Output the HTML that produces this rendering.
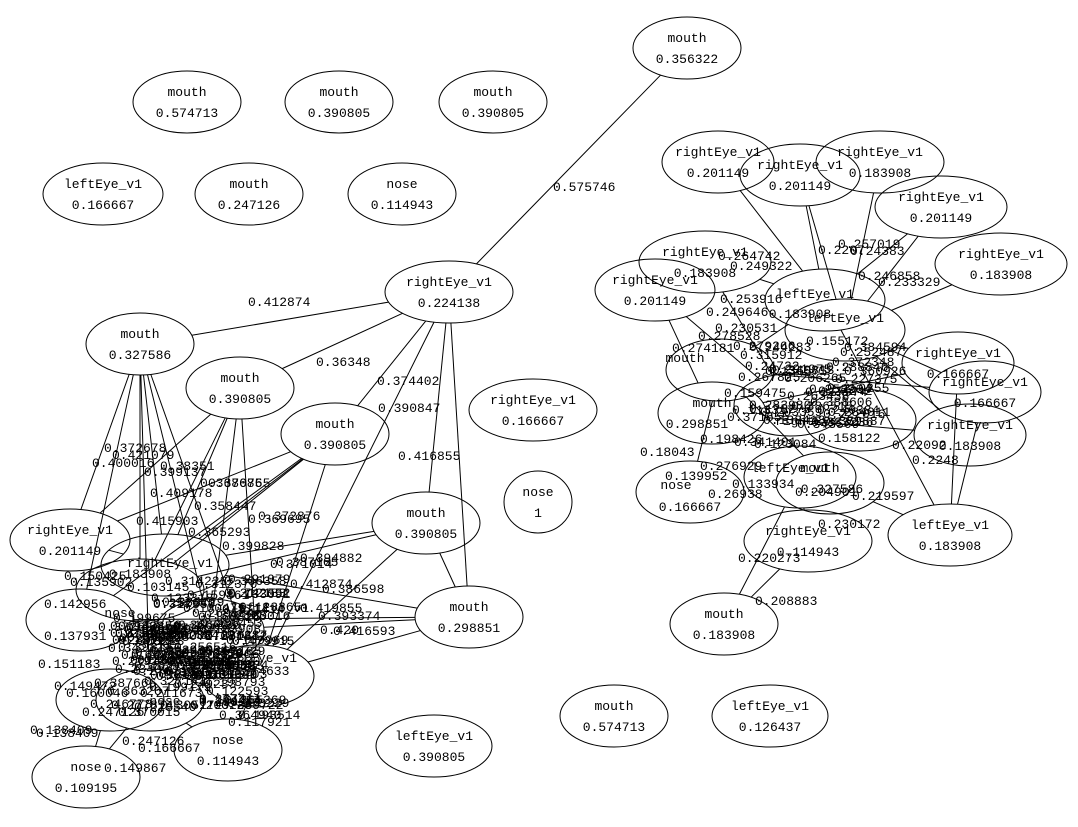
<!DOCTYPE html>
<html><head><meta charset="utf-8"><style>
html,body{margin:0;padding:0;background:#fff;}
svg text{font-family:"Liberation Mono","DejaVu Sans Mono",monospace;font-size:13px;fill:#000;text-anchor:middle;}
svg text.l{text-anchor:start;}
ellipse{fill:none;stroke:#000;stroke-width:1;}
line{stroke:#000;stroke-width:1;}
</style></head><body>
<svg id="s" width="1078" height="822" viewBox="0 0 1078 822" xmlns="http://www.w3.org/2000/svg">
<rect width="1078" height="822" fill="#fff"/>
<g id="e"></g><g id="n"></g><g id="t">
<text class="l" x="553" y="191">0.575746</text>
<text class="l" x="248" y="306">0.412874</text>
<text class="l" x="316" y="366">0.36348</text>
<text class="l" x="377" y="385">0.374402</text>
<text class="l" x="378" y="412">0.390847</text>
<text class="l" x="398" y="460">0.416855</text>
<text class="l" x="104" y="452">0.372678</text>
<text class="l" x="112" y="459">0.421079</text>
<text class="l" x="92" y="467">0.400016</text>
<text class="l" x="160" y="470">0.38351</text>
<text class="l" x="144" y="476">0.399137</text>
<text class="l" x="150" y="497">0.409178</text>
<text class="l" x="200" y="487">0.368685</text>
<text class="l" x="208" y="487">0.370765</text>
<text class="l" x="194" y="510">0.358447</text>
<text class="l" x="136" y="525">0.415903</text>
<text class="l" x="258" y="520">0.372876</text>
<text class="l" x="248" y="523">0.369695</text>
<text class="l" x="188" y="536">0.365293</text>
<text class="l" x="222" y="550">0.399828</text>
<text class="l" x="300" y="562">0.394882</text>
<text class="l" x="270" y="568">0.371014</text>
<text class="l" x="276" y="566">0.387165</text>
<text class="l" x="322" y="593">0.386598</text>
<text class="l" x="290" y="588">0.412874</text>
<text class="l" x="300" y="612">0.419855</text>
<text class="l" x="318" y="620">0.393374</text>
<text class="l" x="333" y="635">0.416593</text>
<text class="l" x="320" y="634">0.420</text>
<text class="l" x="228" y="597">0.742552</text>
<text class="l" x="232" y="645">0.479915</text>
<text class="l" x="38" y="668">0.151183</text>
<text class="l" x="44" y="608">0.142956</text>
<text class="l" x="44" y="640">0.137931</text>
<text class="l" x="54" y="690">0.149472</text>
<text class="l" x="66" y="697">0.160046</text>
<text class="l" x="30" y="734">0.138409</text>
<text class="l" x="36" y="737">0.138409</text>
<text class="l" x="82" y="716">0.247126</text>
<text class="l" x="122" y="745">0.247126</text>
<text class="l" x="228" y="726">0.117921</text>
<text class="l" x="104" y="772">0.149867</text>
<text class="l" x="138" y="752">0.166667</text>
<text class="l" x="64" y="580">0.150425</text>
<text class="l" x="70" y="586">0.135902</text>
<text x="120" y="617">nose</text>
<text x="165" y="705">nose</text>
<text x="258" y="662">leftEye_v1</text>
<text x="270" y="612">leftEye_v1</text>
<text x="230" y="633">0.183908</text>
<text x="170" y="567">rightEye_v1</text>
<text x="140" y="578">0.183908</text>
<text class="l" x="718" y="260">0.264742</text>
<text class="l" x="730" y="270">0.249322</text>
<text class="l" x="838" y="248">0.257019</text>
<text class="l" x="818" y="254">0.2207</text>
<text class="l" x="850" y="255">0.24383</text>
<text class="l" x="858" y="280">0.246858</text>
<text class="l" x="878" y="286">0.233329</text>
<text class="l" x="720" y="303">0.253916</text>
<text class="l" x="706" y="316">0.249646</text>
<text class="l" x="715" y="332">0.230531</text>
<text class="l" x="698" y="340">0.278528</text>
<text class="l" x="672" y="352">0.274181</text>
<text class="l" x="806" y="345">0.155172</text>
<text class="l" x="840" y="356">0.252487</text>
<text class="l" x="745" y="370">0.24722</text>
<text class="l" x="835" y="383">0.227375</text>
<text class="l" x="818" y="395">0.24242</text>
<text class="l" x="760" y="416">0.203359</text>
<text class="l" x="700" y="443">0.198426</text>
<text class="l" x="640" y="456">0.18043</text>
<text class="l" x="665" y="480">0.139952</text>
<text class="l" x="732" y="488">0.133934</text>
<text class="l" x="818" y="442">0.158122</text>
<text class="l" x="892" y="449">0.22092</text>
<text class="l" x="912" y="464">0.2248</text>
<text class="l" x="795" y="496">0.204901</text>
<text class="l" x="852" y="500">0.219597</text>
<text class="l" x="818" y="528">0.230172</text>
<text class="l" x="738" y="562">0.220273</text>
<text class="l" x="755" y="605">0.208883</text>
<text class="l" x="700" y="470">0.276929</text>
<text class="l" x="708" y="498">0.26938</text>
<text x="685" y="362">mouth</text>
<text x="712" y="407">mouth</text>
<text x="697" y="428">0.298851</text>
<text x="676" y="489">nose</text>
<text x="690" y="511">0.166667</text>
<text x="790" y="472">leftEye_v1</text>
<text x="820" y="472">mouth</text>
<text x="832" y="493">0.327586</text>
<text x="818" y="425">rightEye_v1</text>
<text x="815" y="298">leftEye_v1</text>
<text x="845" y="322">leftEye_v1</text>
<text x="800" y="318">0.183908</text>
</g>
</svg>
<script>
var N=[
[687,48,54,31,"mouth","0.356322"],
[187,102,54,31,"mouth","0.574713"],
[339,102,54,31,"mouth","0.390805"],
[493,102,54,31,"mouth","0.390805"],
[103,194,60,31,"leftEye_v1","0.166667"],
[249,194,54,31,"mouth","0.247126"],
[402,194,54,31,"nose","0.114943"],
[449,292,64,31,"rightEye_v1","0.224138"],
[533,410,64,31,"rightEye_v1","0.166667"],
[538,502,34,31,"nose","1"],
[614,716,54,31,"mouth","0.574713"],
[770,716,58,31,"leftEye_v1","0.126437"],
[434,746,58,31,"leftEye_v1","0.390805"],
[140,344,54,31,"mouth","0.327586"],
[240,388,54,31,"mouth","0.390805"],
[335,434,54,31,"mouth","0.390805"],
[426,523,54,31,"mouth","0.390805"],
[70,540,60,31,"rightEye_v1","0.201149"],
[469,617,54,31,"mouth","0.298851"],
[86,777,54,31,"nose","0.109195"],
[228,750,54,31,"nose","0.114943"],
[258,676,56,31,"",""],
[165,565,64,31,"",""],
[140,590,64,31,"",""],
[80,620,54,31,"",""],
[210,630,54,31,"",""],
[110,700,54,31,"",""],
[150,700,54,31,"",""],
[718,162,56,31,"rightEye_v1","0.201149"],
[800,175,60,31,"rightEye_v1","0.201149"],
[880,162,64,31,"rightEye_v1","0.183908"],
[941,207,66,31,"rightEye_v1","0.201149"],
[1001,264,66,31,"rightEye_v1","0.183908"],
[705,262,66,31,"rightEye_v1","0.183908"],
[655,290,60,31,"rightEye_v1","0.201149"],
[825,300,60,31,"",""],
[845,330,60,31,"",""],
[958,363,56,31,"rightEye_v1","0.166667"],
[985,392,56,31,"rightEye_v1","0.166667"],
[970,435,56,31,"rightEye_v1","0.183908"],
[720,370,54,31,"",""],
[712,413,54,31,"",""],
[790,405,56,31,"",""],
[800,477,56,31,"",""],
[830,483,54,31,"",""],
[690,492,54,31,"",""],
[808,541,64,31,"rightEye_v1","0.114943"],
[950,535,62,31,"leftEye_v1","0.183908"],
[724,624,54,31,"mouth","0.183908"],
[860,420,56,31,"",""]
];
var E=[[0,7],[7,13],[7,14],[7,15],[7,16],[7,18],[7,21],
[13,17],[13,22],[13,23],[13,24],[13,25],[13,21],[13,27],
[14,17],[14,22],[14,21],[14,25],[14,23],
[15,17],[15,22],[15,21],[15,24],[15,23],
[16,22],[16,21],[16,18],[16,23],
[18,22],[18,21],[18,25],[18,24],[21,20],[27,19],[27,20],[17,22],[26,19],
[28,35],[29,35],[30,36],[31,36],[32,36],[33,35],[34,41],[35,40],[36,37],[36,38],[36,39],
[40,45],[40,44],[44,47],[37,47],[38,47],[43,46],[46,48],[43,48],[41,37],[40,38],[41,39],[35,47],[29,36],[31,35],[34,42],[33,42]];
var ns="http://www.w3.org/2000/svg";
function el(t,a,txt){var e=document.createElementNS(ns,t);for(var k in a)e.setAttribute(k,a[k]);if(txt!=null)e.textContent=txt;return e;}
function clip(a,b){var dx=b[0]-a[0],dy=b[1]-a[1];var t=1/Math.sqrt(Math.pow(dx/a[2],2)+Math.pow(dy/a[3],2));return [a[0]+dx*t,a[1]+dy*t];}
var ge=document.getElementById("e"),gn=document.getElementById("n");
E.forEach(function(p){var a=N[p[0]],b=N[p[1]];var s=clip(a,b),t=clip(b,a);
ge.appendChild(el("line",{x1:s[0],y1:s[1],x2:t[0],y2:t[1]}));});
N.forEach(function(n){gn.appendChild(el("ellipse",{cx:n[0],cy:n[1],rx:n[2],ry:n[3]}));
if(n[4]){gn.appendChild(el("text",{x:n[0],y:n[1]-6},n[4]));gn.appendChild(el("text",{x:n[0],y:n[1]+15},n[5]));}});
var seed=7;function r(){seed=(seed*16807)%2147483647;return seed/2147483647;}
var gt=document.getElementById("t");
function fill(x0,y0,w,h,c){for(var i=0;i<c;i++){var v="0."+String(Math.floor(100000+r()*300000));
gt.appendChild(el("text",{"class":"l",x:Math.round(x0+r()*w),y:Math.round(y0+r()*h)},v));}}
fill(90,580,150,140,70);
fill(110,630,100,50,40);
fill(720,345,130,110,22);
fill(760,370,70,60,10);
</script>
</body></html>
